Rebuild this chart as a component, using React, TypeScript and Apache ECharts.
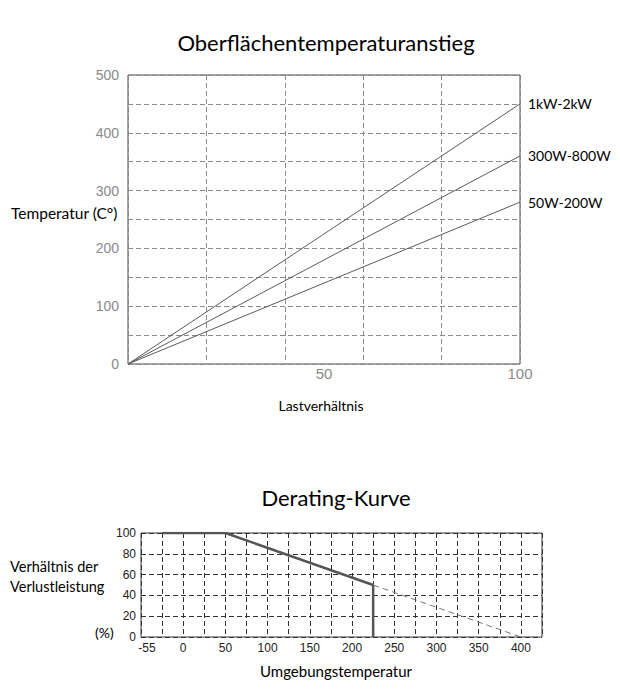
import React, { useEffect, useRef } from 'react';
import * as echarts from 'echarts';

// ---- Chart 1: Oberflächentemperaturanstieg ----
const loadRatio = [0, 100];
const rise1kW = [0, 450];
const rise300W = [0, 360];
const rise50W = [0, 280];
const riseNames = ['1kW-2kW', '300W-800W', '50W-200W'];
const topYTickLabels = [0, 100, 200, 300, 400, 500];
const topXTickLabels = [50, 100];

// ---- Chart 2: Derating-Kurve ----
const deratingTemp = [-25, 50, 225, 225];
const deratingRatio = [100, 100, 50, 0];
const extrapTemp = [225, 400];
const extrapRatio = [50, 0];
const bottomXTickValues = [-50, 0, 50, 100, 150, 200, 250, 300, 350, 400];
const bottomXTickLabels = ['-55', '0', '50', '100', '150', '200', '250', '300', '350', '400'];
const bottomYTickLabels = [0, 20, 40, 60, 80, 100];

const TEXT_FONT = 'Lato';
const NUM_FONT = 'Liberation Sans';

export default function App() {
  const ref = useRef<HTMLDivElement>(null);

  useEffect(() => {
    document.body.style.margin = '0';
    if (!ref.current) return;
    const chart = echarts.init(ref.current, null, { renderer: 'svg' });

    const pair = (xs: number[], ys: number[]) => xs.map((x, i) => [x, ys[i]]);
    const riseData = [rise1kW, rise300W, rise50W];

    const option: any = {
      animation: false,
      backgroundColor: '#fff',
      grid: [
        { left: 128, top: 75, right: 100, bottom: 334, show: true, borderColor: '#4a4a4a', borderWidth: 1 },
        { left: 141, top: 533, right: 78, bottom: 61, show: true, borderColor: '#3a3a3a', borderWidth: 1 },
      ],
      xAxis: [
        {
          gridIndex: 0, type: 'value', min: 0, max: 100, interval: 20,
          axisLine: { show: false }, axisTick: { show: false }, axisLabel: { show: false },
          splitLine: { show: true, lineStyle: { type: [5, 3], color: '#8a8a8a', width: 1 } },
        },
        {
          gridIndex: 0, type: 'value', min: 0, max: 100, interval: 50, position: 'bottom',
          axisLine: { show: false }, axisTick: { show: false }, splitLine: { show: false },
          axisLabel: {
            margin: 2, color: '#8a8a8a', fontSize: 15, fontFamily: NUM_FONT,
            formatter: (v: number) => (topXTickLabels.includes(v) ? String(v) : ''),
          },
        },
        {
          gridIndex: 1, type: 'value', min: -50, max: 425, interval: 25,
          axisLine: { show: false }, axisTick: { show: false },
          splitLine: { show: true, lineStyle: { type: [5, 3], color: '#333', width: 1 } },
          axisLabel: {
            margin: 5, color: '#222', fontSize: 12, fontFamily: NUM_FONT,
            showMaxLabel: false,
            formatter: (v: number) => {
              const i = bottomXTickValues.indexOf(v);
              if (i < 0) return '';
              return i === 0 ? '{first|' + bottomXTickLabels[i] + '}' : bottomXTickLabels[i];
            },
            rich: {
              first: { padding: [0, 0, 0, 12], color: '#222', fontSize: 12, fontFamily: NUM_FONT },
            },
          },
        },
      ],
      yAxis: [
        {
          gridIndex: 0, type: 'value', min: 0, max: 500, interval: 50,
          axisLine: { show: false }, axisTick: { show: false },
          splitLine: { show: true, lineStyle: { type: [5, 3], color: '#8a8a8a', width: 1 } },
          axisLabel: {
            margin: 9, color: '#8a8a8a', fontSize: 14, fontFamily: NUM_FONT,
            padding: [0, 0, 3, 0],
            formatter: (v: number) => (topYTickLabels.includes(v) ? String(v) : ''),
          },
        },
        {
          gridIndex: 1, type: 'value', min: 0, max: 100, interval: 20,
          axisLine: { show: false }, axisTick: { show: false },
          splitLine: { show: true, lineStyle: { type: [5, 3], color: '#333', width: 1 } },
          axisLabel: {
            margin: 5, color: '#222', fontSize: 12, fontFamily: NUM_FONT,
            formatter: (v: number) => (bottomYTickLabels.includes(v) ? String(v) : ''),
          },
        },
      ],
      series: [
        ...riseNames.map((name, k) => ({
          name, type: 'line', xAxisIndex: 0, yAxisIndex: 0,
          data: pair(loadRatio, riseData[k]),
          symbol: 'none', lineStyle: { color: '#5a5a5a', width: 1 },
          endLabel: {
            show: true, formatter: '{a}', distance: 8, color: '#000',
            fontSize: 14, fontFamily: TEXT_FONT,
          },
          silent: true,
        })),
        {
          name: 'Derating', type: 'line', xAxisIndex: 2, yAxisIndex: 1,
          data: pair(deratingTemp, deratingRatio),
          symbol: 'none', lineStyle: { color: '#555', width: 2.5 },
          silent: true,
        },
        {
          name: 'Extrapolation', type: 'line', xAxisIndex: 2, yAxisIndex: 1,
          data: pair(extrapTemp, extrapRatio),
          symbol: 'none', lineStyle: { color: '#777', width: 1, type: [6, 4] },
          silent: true,
        },
      ],
      graphic: [
        { type: 'text', x: 326, y: 42, style: { text: 'Oberflächentemperaturanstieg', fontSize: 22, fontFamily: TEXT_FONT, fill: '#000', textAlign: 'center', textVerticalAlign: 'middle' } },
        { type: 'text', x: 11, y: 213, style: { text: 'Temperatur (C°)', fontSize: 15.5, fontFamily: TEXT_FONT, fill: '#000', textAlign: 'left', textVerticalAlign: 'middle' } },
        { type: 'text', x: 321, y: 405, style: { text: 'Lastverhältnis', fontSize: 14, fontFamily: TEXT_FONT, fill: '#000', textAlign: 'center', textVerticalAlign: 'middle' } },
        { type: 'text', x: 336, y: 497, style: { text: 'Derating-Kurve', fontSize: 22, fontFamily: TEXT_FONT, fill: '#000', textAlign: 'center', textVerticalAlign: 'middle' } },
        { type: 'text', x: 10, y: 566, style: { text: 'Verhältnis der', fontSize: 14.5, fontFamily: TEXT_FONT, fill: '#000', textAlign: 'left', textVerticalAlign: 'middle' } },
        { type: 'text', x: 10, y: 586, style: { text: 'Verlustleistung', fontSize: 14.5, fontFamily: TEXT_FONT, fill: '#000', textAlign: 'left', textVerticalAlign: 'middle' } },
        { type: 'text', x: 95, y: 632, style: { text: '(%)', fontSize: 14, fontFamily: TEXT_FONT, fill: '#000', textAlign: 'left', textVerticalAlign: 'middle' } },
        { type: 'text', x: 336, y: 671, style: { text: 'Umgebungstemperatur', fontSize: 15, fontFamily: TEXT_FONT, fill: '#000', textAlign: 'center', textVerticalAlign: 'middle' } },
      ],
    };

    chart.setOption(option);
    return () => chart.dispose();
  }, []);

  return <div ref={ref} style={{ width: 620, height: 698 }} />;
}
